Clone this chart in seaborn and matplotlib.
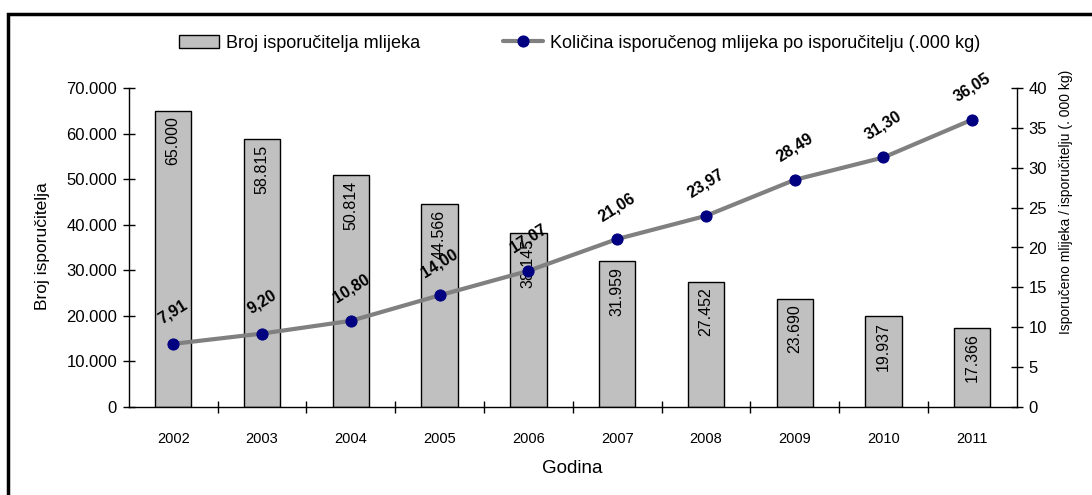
import matplotlib
matplotlib.use("Agg")
import matplotlib.pyplot as plt
import matplotlib.ticker as mticker
from matplotlib.patches import Rectangle
import seaborn as sns
import numpy as np

years = ["2002", "2003", "2004", "2005", "2006", "2007", "2008", "2009", "2010", "2011"]
suppliers = [65000, 58815, 50814, 44566, 38145, 31959, 27452, 23690, 19937, 17366]
kg_per_supplier = [7.91, 9.20, 10.80, 14.00, 17.07, 21.06, 23.97, 28.49, 31.30, 36.05]

sns.set_style("white")
plt.rcParams["font.family"] = ["Liberation Sans", "DejaVu Sans"]
plt.rcParams.update({"text.color": "black", "axes.labelcolor": "black",
                     "xtick.color": "black", "ytick.color": "black"})

fig = plt.figure(figsize=(10.92, 4.95), dpi=100)
ax = fig.add_axes([0.118, 0.178, 0.813, 0.644])

sns.barplot(x=years, y=suppliers, color="#C0C0C0", saturation=1, width=0.41,
            edgecolor="black", linewidth=1, ax=ax)
ax.set_ylim(0, 70000)
ax.set_xlim(-0.5, 9.5)
ax.yaxis.set_major_locator(mticker.MultipleLocator(10000))
ax.yaxis.set_major_formatter(mticker.FuncFormatter(lambda v, p: f"{int(v):,}".replace(",", ".")))

for i, v in enumerate(suppliers):
    ax.annotate(f"{v:,}".replace(",", "."), (i, v), xytext=(0, -4), textcoords="offset points",
                rotation=90, ha="center", va="top", fontsize=11.5)

ax2 = ax.twinx()
sns.lineplot(x=np.arange(len(years)), y=kg_per_supplier, ax=ax2, color="#808080", lw=3,
             marker="o", markersize=8, markerfacecolor="#000080", markeredgecolor="#000080")
ax2.set_ylim(0, 40)
ax2.yaxis.set_major_locator(mticker.MultipleLocator(5))
for i, v in enumerate(kg_per_supplier):
    ax2.annotate(f"{v:.2f}".replace(".", ","), (i, v), xytext=(0, 23), textcoords="offset points",
                 rotation=32, ha="center", va="center", fontsize=11.5, fontweight="bold")

for a in (ax, ax2):
    a.spines["top"].set_visible(False)
    for s in ("left", "right", "bottom"):
        a.spines[s].set_color("black")
        a.spines[s].set_linewidth(1)
ax.spines["right"].set_visible(False)
ax2.spines["bottom"].set_visible(False)
ax2.spines["left"].set_visible(False)

ax.tick_params(axis="y", direction="inout", length=9, width=1, labelsize=12, pad=4, left=True)
ax2.tick_params(axis="y", direction="inout", length=9, width=1, labelsize=12, pad=4, right=True)
ax.tick_params(axis="x", which="major", length=0, labelsize=10.5, pad=18)
ax.set_xticks(np.arange(0.5, 9.5, 1), minor=True)
ax.tick_params(axis="x", which="minor", direction="inout", length=9, width=1, bottom=True)

ax.set_xlabel("Godina", fontsize=13.5)
ax.xaxis.set_label_coords(0.499, -0.168)
ax.set_ylabel("Broj isporučitelja", fontsize=12.5)
ax.yaxis.set_label_coords(-0.089, 0.505)
ax2.set_ylabel("Isporučeno mlijeka / isporučitelju (. 000 kg)", fontsize=10)
ax2.yaxis.set_label_coords(1.048, 0.643)

bar_handle = Rectangle((0, 0), 1, 1, facecolor="#C0C0C0", edgecolor="black", lw=1)
line_handle = ax2.lines[0]
fig.legend([bar_handle, line_handle],
           ["Broj isporučitelja mlijeka", "Količina isporučenog mlijeka po isporučitelju (.000 kg)"],
           loc="center", bbox_to_anchor=(0.531, 0.913), ncol=2, frameon=False, fontsize=13,
           handlelength=2.2, columnspacing=4.6, handletextpad=0.4)

fig.patches.append(Rectangle((8 / 1092, -0.1), 1.2, 1.1 - 14 / 495, transform=fig.transFigure,
                             fill=False, edgecolor="black", lw=2.5))

fig.savefig("out.png", dpi=100)
